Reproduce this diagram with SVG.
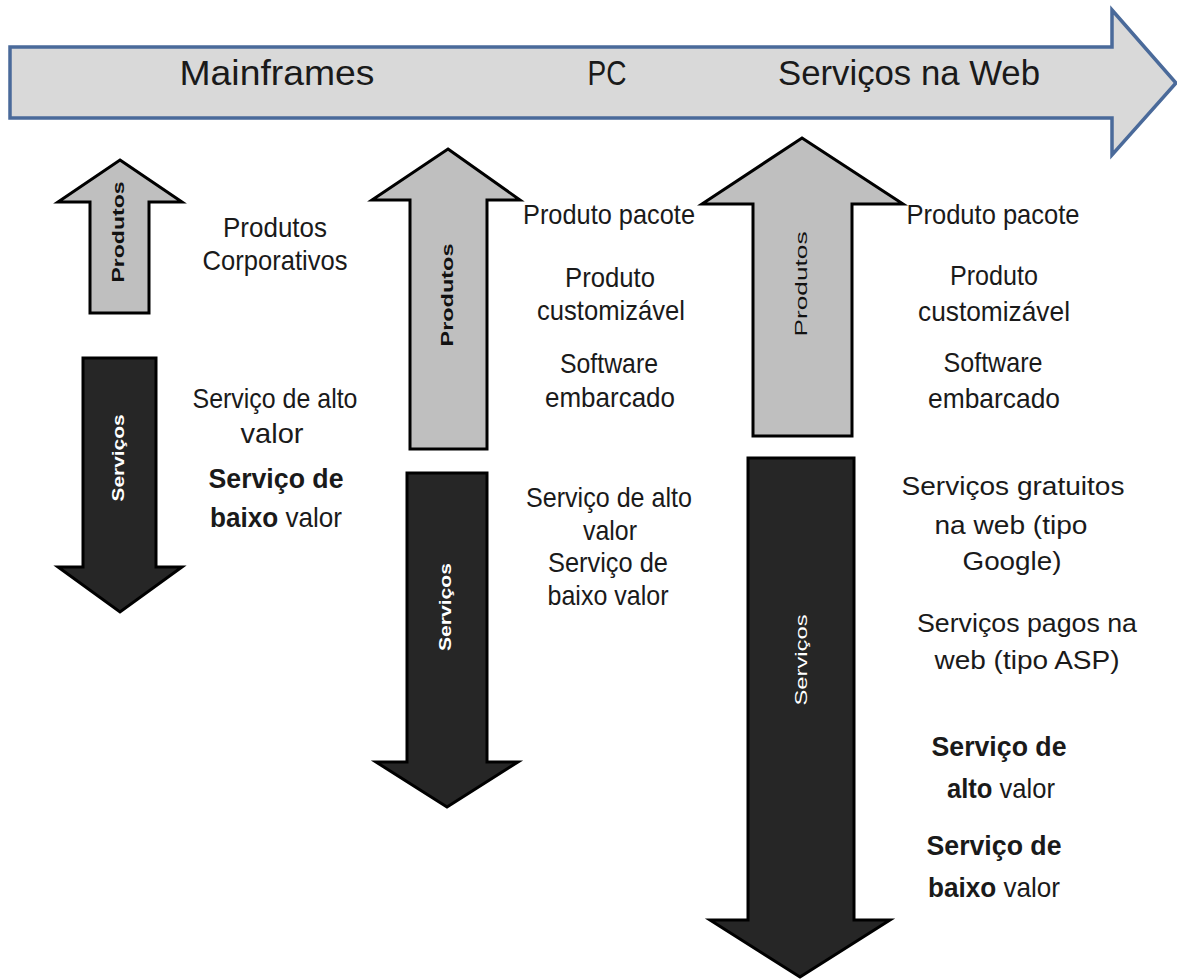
<svg xmlns="http://www.w3.org/2000/svg" width="1177" height="980" viewBox="0 0 1177 980">
<style>
.t{font-family:"Liberation Sans",Arial,sans-serif;font-size:28px;fill:#1a1a1a;text-anchor:middle}
.b{font-weight:bold}
.top{font-family:"Liberation Sans",Arial,sans-serif;font-size:35px;fill:#1a1a1a;text-anchor:middle}
.prod{fill:#bfbfbf;stroke:#000;stroke-width:3;stroke-linejoin:miter}
.serv{fill:#262626;stroke:#000;stroke-width:3;stroke-linejoin:miter}
.lp{font-family:"Liberation Sans",Arial,sans-serif;font-size:17px;font-weight:bold;fill:#111;text-anchor:middle}
.ls{font-family:"Liberation Sans",Arial,sans-serif;font-size:17px;font-weight:bold;fill:#fff;text-anchor:middle}
.w{font-family:"Liberation Sans",Arial,sans-serif;font-size:25px;fill:#1a1a1a;text-anchor:middle}
</style>
<rect width="1177" height="980" fill="#fff"/>
<g id="timeline">
<polygon points="10,47 1112,47 1112,10 1176,83 1112,155 1112,118 10,118" fill="#d9d9d9" stroke="#4a6a9a" stroke-width="3.5"/>
<text class="top" x="277" y="85" textLength="195" lengthAdjust="spacingAndGlyphs">Mainframes</text>
<text class="top" x="607" y="85" textLength="39" lengthAdjust="spacingAndGlyphs">PC</text>
<text class="top" x="909" y="85" textLength="262" lengthAdjust="spacingAndGlyphs">Serviços na Web</text>
</g>
<g id="col1-produtos">
<polygon class="prod" points="120,160 182,202 149,202 149,313 90,313 90,202 58,202"/>
<text class="lp" x="124" y="232" transform="rotate(-90 124 232)" textLength="101" lengthAdjust="spacingAndGlyphs">Produtos</text>
</g>
<g id="col1-servicos">
<polygon class="serv" points="83,358 156,358 156,567 182,567 120,612 58,567 83,567"/>
<text class="ls" x="124" y="458" transform="rotate(-90 124 458)" textLength="87" lengthAdjust="spacingAndGlyphs">Serviços</text>
</g>
<g id="col1-text">
<text class="t" x="275" y="237" textLength="104" lengthAdjust="spacingAndGlyphs">Produtos</text>
<text class="t" x="275" y="270" textLength="145" lengthAdjust="spacingAndGlyphs">Corporativos</text>
<text class="t" x="275" y="408" textLength="165" lengthAdjust="spacingAndGlyphs">Serviço de alto</text>
<text class="t" x="272" y="443" textLength="63" lengthAdjust="spacingAndGlyphs">valor</text>
<text class="t b" x="276" y="488" textLength="135" lengthAdjust="spacingAndGlyphs">Serviço de</text>
<text class="t" x="276" y="527" textLength="132" lengthAdjust="spacingAndGlyphs"><tspan class="b">baixo</tspan> valor</text>
</g>
<g id="col2-produtos">
<polygon class="prod" points="448,149 520,200 487,200 487,449 410,449 410,200 372,200"/>
<text class="lp" x="453" y="295" transform="rotate(-90 453 295)" textLength="103" lengthAdjust="spacingAndGlyphs">Produtos</text>
</g>
<g id="col2-servicos">
<polygon class="serv" points="407,473 487,473 487,762 518,762 447,807 376,762 407,762"/>
<text class="ls" x="451" y="607" transform="rotate(-90 451 607)" textLength="88" lengthAdjust="spacingAndGlyphs">Serviços</text>
</g>
<g id="col2-text">
<text class="t" x="609" y="224" textLength="172" lengthAdjust="spacingAndGlyphs">Produto pacote</text>
<text class="t" x="610" y="287" textLength="90" lengthAdjust="spacingAndGlyphs">Produto</text>
<text class="t" x="611" y="320" textLength="148" lengthAdjust="spacingAndGlyphs">customizável</text>
<text class="t" x="609" y="373" textLength="98" lengthAdjust="spacingAndGlyphs">Software</text>
<text class="t" x="610" y="407" textLength="130" lengthAdjust="spacingAndGlyphs">embarcado</text>
<text class="t" x="609" y="507" textLength="166" lengthAdjust="spacingAndGlyphs">Serviço de alto</text>
<text class="t" x="610" y="540" textLength="54" lengthAdjust="spacingAndGlyphs">valor</text>
<text class="t" x="608" y="572" textLength="120" lengthAdjust="spacingAndGlyphs">Serviço de</text>
<text class="t" x="608" y="605" textLength="121" lengthAdjust="spacingAndGlyphs">baixo valor</text>
</g>
<g id="col3-produtos">
<polygon class="prod" points="802,138 903,204 852,204 852,436 753,436 753,204 702,204"/>
<text class="lp" x="807" y="284" transform="rotate(-90 807 284)" style="font-weight:normal" textLength="105" lengthAdjust="spacingAndGlyphs">Produtos</text>
</g>
<g id="col3-servicos">
<polygon class="serv" points="748,458 854,458 854,920 890,920 800,977 710,920 748,920"/>
<text class="ls" x="807" y="660" transform="rotate(-90 807 660)" style="font-weight:normal" textLength="91" lengthAdjust="spacingAndGlyphs">Serviços</text>
</g>
<g id="col3-text">
<text class="t" x="993" y="224" textLength="173" lengthAdjust="spacingAndGlyphs">Produto pacote</text>
<text class="t" x="994" y="285" textLength="88" lengthAdjust="spacingAndGlyphs">Produto</text>
<text class="t" x="994" y="321" textLength="152" lengthAdjust="spacingAndGlyphs">customizável</text>
<text class="t" x="993" y="372" textLength="99" lengthAdjust="spacingAndGlyphs">Software</text>
<text class="t" x="994" y="408" textLength="132" lengthAdjust="spacingAndGlyphs">embarcado</text>
<text class="w" x="1013" y="495" textLength="223" lengthAdjust="spacingAndGlyphs">Serviços gratuitos</text>
<text class="w" x="1011" y="534" textLength="153" lengthAdjust="spacingAndGlyphs">na web (tipo</text>
<text class="w" x="1012" y="570" textLength="99" lengthAdjust="spacingAndGlyphs">Google)</text>
<text class="w" x="1027" y="632" textLength="220" lengthAdjust="spacingAndGlyphs">Serviços pagos na</text>
<text class="w" x="1027" y="669" textLength="185" lengthAdjust="spacingAndGlyphs">web (tipo ASP)</text>
<text class="t b" x="999" y="756" textLength="135" lengthAdjust="spacingAndGlyphs">Serviço de</text>
<text class="t" x="1001" y="798" textLength="108" lengthAdjust="spacingAndGlyphs"><tspan class="b">alto</tspan> valor</text>
<text class="t b" x="994" y="855" textLength="135" lengthAdjust="spacingAndGlyphs">Serviço de</text>
<text class="t" x="994" y="897" textLength="132" lengthAdjust="spacingAndGlyphs"><tspan class="b">baixo</tspan> valor</text>
</g>
</svg>
